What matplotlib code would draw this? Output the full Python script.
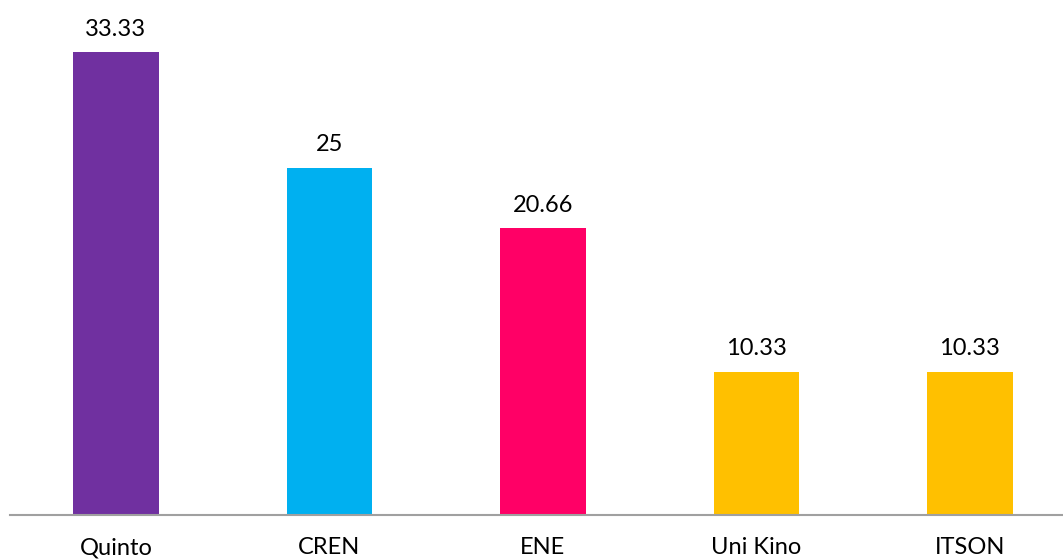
import matplotlib
matplotlib.use('Agg')
import matplotlib.pyplot as plt

plt.rcParams['font.family'] = ['Lato', 'DejaVu Sans']

categories = ['Quinto', 'CREN', 'ENE', 'Uni Kino', 'ITSON']
values = [33.33, 25, 20.66, 10.33, 10.33]
labels = ['33.33', '25', '20.66', '10.33', '10.33']
colors = ['#7030A0', '#00B0F0', '#FF0066', '#FFC000', '#FFC000']

fig = plt.figure(figsize=(10.63, 5.59), dpi=100)
ax = fig.add_axes([10 / 1063, 44 / 559, 1 - 10 / 1063, 500 / 559])

x = range(len(categories))
bars = ax.bar(x, values, width=0.40, color=colors)
for b, lab in zip(bars, labels):
    ax.annotate(lab, (b.get_x() + b.get_width() / 2, b.get_height()),
                xytext=(0, 9), textcoords='offset points',
                ha='center', va='bottom', fontsize=17, color='black')

ax.set_xlim(-0.496, 4.436)
ax.set_ylim(0, 36)
ax.set_xticks(list(x))
ax.set_xticklabels(categories, fontsize=17)
ax.tick_params(axis='x', length=0, pad=16)
ax.set_yticks([])
for s in ['top', 'right', 'left']:
    ax.spines[s].set_visible(False)
ax.spines['bottom'].set_color('#a0a0a0')
ax.spines['bottom'].set_linewidth(1.5)

fig.savefig('out.png', dpi=100)
plt.close(fig)
